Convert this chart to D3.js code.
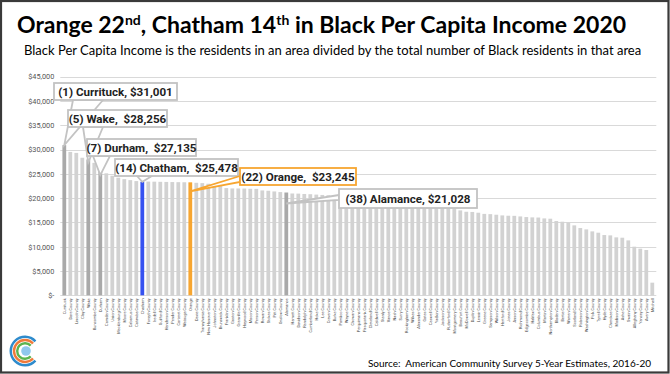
<!DOCTYPE html>
<html><head><meta charset="utf-8">
<script src="https://cdn.jsdelivr.net/npm/d3@7"></script>
<style>
html,body{margin:0;padding:0;background:#fff;}
svg text{white-space:pre;}
</style></head>
<body>
<svg id="c" width="670" height="374"></svg>
<script>
// ---------------- DATA ----------------
const counties = ["Currituck","Dare County","Lincoln County","Clay County","Wake","Buncombe County","Durham",
"Camden County","Union County","Mecklenburg County","Moore County","Cabarrus County","Catawba County","Chatham",
"Forsyth County","Iredell County","Guilford County","Henderson County","Pender County","Carteret County","Watauga County",
"Orange","Davie County","Transylvania County","New Hanover County","Johnston County","Brunswick County","Franklin County",
"Gaston County","Granville County","Haywood County","Macon County","Person County","Rowan County","Stokes County",
"Pitt County","Onslow County","Alamance","Harnett County","Davidson County","Randolph County","Cumberland County",
"Hoke County","Lee County","Craven County","Burke County","Pamlico County","Wayne County","Chowan County",
"Perquimans County","Pasquotank County","Cleveland County","Caldwell County","Stanly County","Vance County","Nash County",
"Surry County","Rockingham County","Wilkes County","Alexander County","Gates County","Caswell County","Yadkin County",
"Jackson County","Rutherford County","Montgomery County","Beaufort County","McDowell County","Duplin County","Lenoir County",
"Greene County","Sampson County","Wilson County","Hertford County","Jones County","Anson County","Richmond County",
"Edgecombe County","Halifax County","Columbus County","Martin County","Northampton County","Bladen County","Bertie County",
"Warren County","Scotland County","Robeson County","Washington County","Polk County","Tyrrell County","Hyde County",
"Cherokee County","Madison County","Ashe County","Swain County","Alleghany County","Yancey County","Avery County","Mitchell"];

const values = [30900,29500,29300,28300,27950,27250,25550,
25100,24600,24200,23900,23700,23500,23350,
23400,23380,23350,23330,23300,23280,23260,
23245,23150,23080,22950,22800,22470,22060,
21990,21980,21970,21920,21900,21580,21510,
21370,21240,21150,20950,20920,20850,20800,
20720,20650,20580,20500,20420,20330,20250,
20150,20100,20050,19950,19850,19750,19600,
19500,19350,19200,19050,18900,18750,18600,
18400,18200,17900,17470,17190,17150,16990,
16750,16700,16580,16440,16370,16350,16230,
16100,16030,16000,15820,15760,15280,15140,
15000,14390,13840,13560,13150,12880,12400,
12330,11920,11850,11300,10000,9590,9320,2600];

const yTicks = [0,5000,10000,15000,20000,25000,30000,35000,40000,45000];
const yTickLabels = ["$-","$5,000","$10,000","$15,000","$20,000","$25,000","$30,000","$35,000","$40,000","$45,000"];

const darkHighlights = ["Currituck","Wake","Durham","Alamance"];
const blueHighlight = "Chatham";
const orangeHighlight = "Orange";

const calloutCounties = ["Currituck","Wake","Durham","Chatham","Orange","Alamance"];
const calloutTexts = ["(1) Currituck, $31,001","(5) Wake,  $28,256","(7) Durham,  $27,135","(14) Chatham,  $25,478","(22) Orange,  $23,245","(38) Alamance, $21,028"];

const titleParts = [["Orange 22",""],["nd","sup"],[", Chatham 14",""],["th","sup"],[" in Black Per Capita Income 2020",""]];
const subtitle = "Black Per Capita Income is the residents in an area divided by the total number of Black residents in that area";
const source = "Source:  American Community Survey 5-Year Estimates, 2016-20";

// ---------------- LAYOUT ----------------
const svg = d3.select("#c");
const plot = {left:61.3, right:655.3, top:76.6, bottom:295.3};

const x = d3.scaleBand().domain(counties).range([plot.left, plot.right]).paddingInner(0.37).paddingOuter(0.185);
const y = d3.scaleLinear().domain([0,45000]).range([plot.bottom, plot.top]);

// frame
svg.append("rect").attr("x",1).attr("y",1).attr("width",667.5).attr("height",371.5)
  .attr("fill","#fff").attr("stroke","#3a3a3a").attr("stroke-width",2.2);

// title
const t = svg.append("text").attr("x",17).attr("y",33)
  .attr("font-family","Lato, 'Open Sans', sans-serif").attr("font-weight","bold")
  .attr("font-size",23).attr("fill","#000");
titleParts.forEach(([s,k])=>{
  const ts = t.append("tspan").text(s);
  if(k==="sup") ts.attr("font-size",14).attr("dy",-8);
  else if (s.startsWith(",") || s.startsWith(" ")) ts.attr("dy",8);
});

svg.append("text").attr("x",24).attr("y",55).attr("font-family","Lato, sans-serif")
  .attr("font-size",13).attr("fill","#000").text(subtitle);

// gridlines
const g = svg.append("g");
g.selectAll("line.grid").data(yTicks).join("line").attr("class","grid")
  .attr("x1",plot.left-1).attr("x2",plot.right+1)
  .attr("y1",d=>Math.round(y(d))+0.5).attr("y2",d=>Math.round(y(d))+0.5)
  .attr("stroke","#d9d9d9").attr("stroke-width",1);

// y axis labels via d3 axis
const yAxis = d3.axisLeft(y).tickValues(yTicks).tickFormat((d,i)=>yTickLabels[i]).tickSize(0).tickPadding(0);
const ya = svg.append("g").attr("transform",`translate(${plot.left-7},0)`).call(yAxis);
ya.select(".domain").remove();
ya.selectAll("text").attr("font-family","Roboto, sans-serif").attr("font-size",7.3).attr("fill","#555");

// bars
function barColor(c){
  if(c===blueHighlight) return "#3652f0";
  if(c===orangeHighlight) return "#f7a631";
  if(darkHighlights.includes(c)) return "#a9a9a9";
  return "#d2d2d2";
}
svg.append("g").selectAll("rect").data(counties).join("rect")
  .attr("x",d=>x(d)).attr("width",x.bandwidth())
  .attr("y",(d,i)=>y(values[i])).attr("height",(d,i)=>y(0)-y(values[i]))
  .attr("fill",d=>barColor(d));

// x axis labels
const xAxis = d3.axisBottom(x).tickSize(0).tickPadding(0);
const xa = svg.append("g").attr("transform",`translate(0,${plot.bottom+3})`).call(xAxis);
xa.select(".domain").remove();
xa.selectAll("text").attr("font-family","Roboto, sans-serif").attr("font-size",3.9).attr("fill","#444")
  .attr("text-anchor","end").attr("dy","0.35em").attr("transform","rotate(-90)").attr("x",0).attr("y",0);

// callouts
const boxes = [
  {x:54, y:83, w:123, h:17, base:[[73,100],[103,100]], off:0},
  {x:68, y:110, w:99, h:17, base:[[83,127],[103,127]], off:3},
  {x:87, y:139, w:109, h:17, base:[[93,156],[110,156]], off:4},
  {x:115, y:159, w:123, h:17, base:[[137,176],[152,176]], off:0},
  {x:240, y:168, w:116, h:17, base:[[240,176],[240,182]], off:9},
  {x:339, y:189, w:138, h:19, base:[[339,195],[339,200]], off:11}
];
const cg = svg.append("g");
calloutCounties.forEach((c,i)=>{
  const b = boxes[i];
  const col = c===orangeHighlight ? "#f7a631" : "#c3c3c3";
  const ax = x(c)+x.bandwidth()/2;
  const ay = y(values[counties.indexOf(c)]) + b.off;
  cg.append("path").attr("d",`M${b.base[0][0]},${b.base[0][1]}L${ax},${ay}L${b.base[1][0]},${b.base[1][1]}Z`)
    .attr("fill","#fff").attr("stroke",col).attr("stroke-width",1.8).attr("stroke-linejoin","miter");
  cg.append("rect").attr("x",b.x).attr("y",b.y).attr("width",b.w).attr("height",b.h)
    .attr("fill","#fff").attr("stroke",col).attr("stroke-width",1.8);
  cg.append("text").attr("x",b.x+b.w/2).attr("y",b.y+b.h/2).attr("dy","0.36em")
    .attr("text-anchor","middle").attr("font-family","'Liberation Sans Narrow', 'Roboto', sans-serif")
    .attr("font-weight","bold").attr("font-size",11.6).attr("fill","#222").text(calloutTexts[i]);
});

// source
svg.append("text").attr("x",651).attr("y",367).attr("text-anchor","end")
  .attr("font-family","Lato, sans-serif").attr("font-size",10).attr("fill","#000").text(source);

// logo
const logo = svg.append("g").attr("transform","translate(25,351)");
const arcs = [[13,15.5,"#2e8bcc"],[9.8,12.2,"#ef7a3a"],[6.6,9,"#5bb450"]];
arcs.forEach(([r0,r1,c])=>{
  logo.append("path").attr("d",d3.arc()({innerRadius:r0,outerRadius:r1,startAngle:Math.PI/2+0.75,endAngle:Math.PI*2.5-0.75}))
    .attr("fill",c);
});
logo.append("circle").attr("cx",1).attr("cy",0).attr("r",4.8).attr("fill","#8fc8ee");
</script>
</body></html>
